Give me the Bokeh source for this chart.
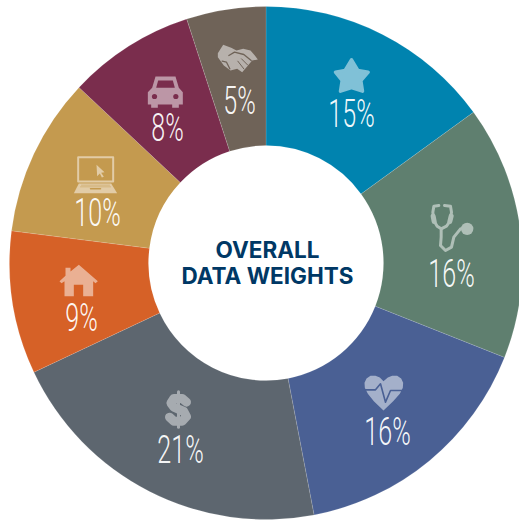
from math import pi
from bokeh.plotting import figure
from bokeh.io import curdoc
from bokeh.models import ColumnDataSource, Range1d, CustomJS
from bokeh.core.properties import value
from bokeh.embed import file_html
from bokeh.resources import INLINE

# ---- chart data ----
SHARES = [15, 16, 16, 21, 9, 10, 8, 5]
LABELS = [f"{v}%" for v in SHARES]
COLORS = ["#0083AF", "#5F7F6F", "#4A6094", "#5D666F", "#D66127", "#C49A4F", "#7A2D4D", "#6F6358"]
TITLE_LINES = ["OVERALL", "DATA WEIGHTS"]
TITLE_COLOR = "#003865"

# ---- layout in page pixels, y downwards ----
CX, CY = 265.5, 262.5
R_OUT, R_IN = 256.5, 117.5
LABEL_XY = [(351, 113), (451, 273), (387, 431), (180, 449), (81, 317), (97, 212), (167, 127), (239, 100)]
TITLE_XY = [(267, 248.5), (267, 274.5)]
W, H = 519, 520

p = figure(width=W, height=H, x_range=Range1d(0, W), y_range=Range1d(-H, 0),
           output_backend="svg", toolbar_location=None, min_border=0,
           outline_line_color=None, background_fill_color=None, border_fill_color=None)
p.axis.visible = False
p.grid.visible = False

starts, ends, acc = [], [], 0.0
total = sum(SHARES)
for v in SHARES:
    starts.append(pi / 2 - 2 * pi * acc / total)
    acc += v
    ends.append(pi / 2 - 2 * pi * acc / total)
src = ColumnDataSource(dict(s=starts, e=ends, c=COLORS))
p.annular_wedge(x=CX, y=-CY, inner_radius=R_IN, outer_radius=R_OUT, start_angle="s", end_angle="e",
                direction="clock", fill_color="c", line_color="#FFFFFF", line_alpha=0.25, line_width=0.5, source=src)


def tint(hexcolor, t=0.5):
    rgb = [int(hexcolor[i:i + 2], 16) for i in (1, 3, 5)]
    return "#%02X%02X%02X" % tuple(round(c + (255 - c) * t) for c in rgb)


def poly(pts, ox, oy, color, k=1 / 3, stroke=0):
    xs = [ox + a * k for a, b in pts]
    ys = [-(oy + b * k) for a, b in pts]
    p.patch(xs, ys, fill_color=color, line_color=color if stroke else None, line_width=stroke or 1, line_join="round")


def stroke(pts, ox, oy, color, width, k=1 / 3):
    p.line([ox + a * k for a, b in pts], [-(oy + b * k) for a, b in pts], line_color=color,
           line_width=width, line_cap="round", line_join="round")


def disc(x, y, r, ox, oy, color, k=1 / 3):
    p.circle([ox + x * k], [-(oy + y * k)], radius=r, fill_color=color, line_color=None)


# star
poly([(153, 58), (172, 90), (203, 95), (181, 120), (186, 152), (153, 141), (120, 152), (125, 120), (105, 95), (134, 90)],
     300, 40, tint(COLORS[0]), stroke=3.5)
# stethoscope
O = (420, 195)
c = tint(COLORS[1])
stroke([(55, 30), (40, 32), (37, 50), (40, 75), (50, 92), (62, 100), (62, 125), (60, 150), (75, 165), (93, 155),
        (100, 125), (120, 100)], *O, c, 3)
stroke([(72, 30), (90, 32), (93, 50), (88, 78), (78, 92), (62, 100)], *O, c, 3)
stroke([(38, 62), (41, 78)], *O, c, 5)
stroke([(92, 62), (88, 78)], *O, c, 5)
disc(140, 100, 6.2, *O, c)
# heart
O = (340, 350)
poly([(129, 92), (118, 81), (105, 76), (90, 76), (78, 84), (72, 97), (73, 112), (82, 130), (100, 152), (129, 180),
      (158, 152), (178, 130), (187, 112), (188, 97), (182, 84), (170, 76), (155, 76), (142, 81)], *O, tint(COLORS[2]))
stroke([(72, 118), (105, 118), (120, 100), (135, 155), (150, 120), (188, 120)], *O, COLORS[2], 1.6)
# dollar
O = (40, 250)
c = tint(COLORS[3], 0.45)
stroke([(438, 455), (425, 444), (400, 444), (391, 458), (400, 470), (430, 483), (438, 498), (425, 512), (400, 512),
        (387, 500)], *O, c, 9)
stroke([(414, 424), (414, 530)], *O, c, 3)
# house
poly([(115, 43), (172, 92), (165, 98), (158, 92), (158, 137), (128, 137), (128, 103), (100, 103), (100, 137),
      (72, 137), (72, 92), (63, 98), (57, 92), (75, 76), (75, 52), (90, 52), (90, 63)], *O, tint(COLORS[4]))
# laptop
O = (60, 145)
c = tint(COLORS[5])
stroke([(53, 35), (158, 35), (158, 108), (53, 108), (53, 35)], *O, c, 2)
poly([(108, 58), (132, 80), (122, 82), (130, 94), (124, 96), (118, 84), (110, 92)], *O, c)
poly([(55, 114), (152, 114), (170, 143), (40, 143)], *O, c)
stroke([(90, 130), (120, 130)], *O, COLORS[5], 1.5)
stroke([(63, 119), (147, 119)], *O, tint(COLORS[5], 0.25), 1)
stroke([(60, 124), (150, 124)], *O, tint(COLORS[5], 0.25), 1)
# car
O = (40, 10)
poly([(345, 198), (405, 198), (415, 232), (427, 245), (427, 282), (415, 282), (415, 292), (395, 292), (395, 282),
      (352, 282), (352, 292), (332, 292), (332, 282), (322, 282), (322, 245), (335, 232)], *O, tint(COLORS[6]))
poly([(353, 210), (397, 210), (403, 232), (347, 232)], *O, COLORS[6])
disc(342, 258, 2.6, *O, COLORS[6])
disc(406, 258, 2.6, *O, COLORS[6])
# handshake
O = (210, 40)
poly([(38, 13), (62, 22), (78, 30), (98, 25), (120, 30), (133, 45), (142, 57), (125, 60), (110, 78), (95, 95),
      (80, 85), (60, 90), (40, 75), (22, 50), (22, 38)], *O, tint(COLORS[7]))
stroke([(55, 45), (72, 35), (100, 42), (122, 60)], *O, COLORS[7], 1.3)
stroke([(35, 62), (48, 65), (58, 85)], *O, COLORS[7], 1.3)
stroke([(82, 62), (100, 85)], *O, COLORS[7], 1)
stroke([(93, 55), (112, 74)], *O, COLORS[7], 1)

# percent labels
p.text([x for x, y in LABEL_XY], [-y for x, y in LABEL_XY], text=LABELS, text_align="center", text_baseline="alphabetic",
       text_font=value("Roboto Light, Roboto"), text_font_size="38px", text_color="#FFFFFF", text_alpha=0.95)

# centre title
p.text([x for x, y in TITLE_XY], [-y for x, y in TITLE_XY], text=TITLE_LINES, text_align="center",
       text_baseline="alphabetic", text_font=value("Inter"), text_font_style="bold", text_font_size="22.5px",
       text_color=TITLE_COLOR)

# the reference's figures are set in a condensed cut: narrow the percent labels, which stay real text
narrow = CustomJS(code="""
function walk(root) {
  root.querySelectorAll('*').forEach(el => {
    if (el.shadowRoot) walk(el.shadowRoot);
    if (el.tagName && el.tagName.toLowerCase() === 'text' && el.textContent.endsWith('%') && !el.dataset.n) {
      el.dataset.n = '1';
      const b = el.getBBox();
      const x = b.x + b.width / 2;
      const t = el.getAttribute('transform') || '';
      el.setAttribute('transform', t + ` translate(${x} 0) scale(0.66 1) translate(${-x} 0)`);
    }
  });
}
[0, 50, 150, 300, 600, 1000].forEach(ms => setTimeout(() => walk(document), ms));
""")
doc = curdoc()
doc.add_root(p)
doc.js_on_event("document_ready", narrow)

open("out.html", "w").write(file_html(p, INLINE))
